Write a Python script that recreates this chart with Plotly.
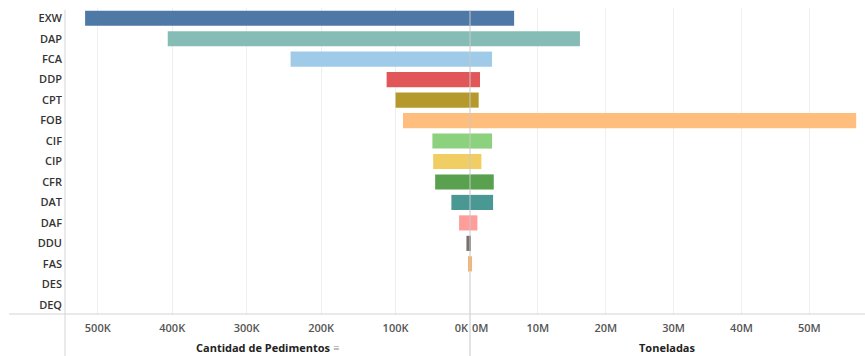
import plotly.graph_objects as go

categories = ["EXW", "DAP", "FCA", "DDP", "CPT", "FOB", "CIF", "CIP", "CFR",
              "DAT", "DAF", "DDU", "FAS", "DES", "DEQ"]
pedimentos = [517000, 406000, 241000, 112000, 100000, 90000, 50500, 49500, 46800,
              25000, 14700, 4800, 2000, 0, 0]
toneladas = [6.5e6, 16.2e6, 3.25e6, 1.47e6, 1.28e6, 56.9e6, 3.25e6, 1.68e6, 3.5e6,
             3.4e6, 1.09e6, 0.03e6, 0.3e6, 0, 0]
colors = ["#4E79A7", "#86BCB6", "#A0CBE8", "#E15759", "#B6992D", "#FFBE7D",
          "#8CD17D", "#F1CE63", "#59A14F", "#499894", "#FF9D9A", "#79706E",
          "#F7B36B", "#BAB0AC", "#D4A6C8"]
left_ticks = [500000, 400000, 300000, 200000, 100000]
left_labels = ["500K", "400K", "300K", "200K", "100K"]
right_ticks = [10e6, 20e6, 30e6, 40e6, 50e6]
right_labels = ["10M", "20M", "30M", "40M", "50M"]

W, H = 865, 356
x0 = 65 / W
xm = 470 / W
FONT = "Open Sans"
PH = 307  # plot height in px

fig = go.Figure()
fig.add_trace(go.Bar(y=categories, x=pedimentos, orientation="h", xaxis="x", yaxis="y",
                     marker=dict(color=colors, line=dict(width=0)),
                     showlegend=False, hoverinfo="x+y"))
fig.add_trace(go.Bar(y=categories, x=toneladas, orientation="h", xaxis="x2", yaxis="y",
                     marker=dict(color=colors, line=dict(width=0)),
                     showlegend=False, hoverinfo="x+y"))

tickfont = dict(family=FONT, size=11, color="#555555", weight=600)
base = dict(showline=False, zeroline=False, ticks="", tickfont=tickfont, fixedrange=True,
            ticklabelstandoff=5)

fig.update_layout(
    width=W, height=H,
    margin=dict(l=0, r=0, t=8, b=41),
    plot_bgcolor="white", paper_bgcolor="white",
    bargap=0.26,
    xaxis=dict(domain=[x0, xm], range=[544000, 0], tickvals=left_ticks, ticktext=left_labels,
               anchor="y", gridcolor="#EFEFEF", gridwidth=1, **base),
    xaxis2=dict(domain=[xm, 1], range=[0, 58.2e6], tickvals=right_ticks, ticktext=right_labels,
                anchor="y", gridcolor="#EFEFEF", gridwidth=1, **base),
    xaxis3=dict(domain=[x0, xm], range=[544000, 0], tickvals=[0], ticktext=["0K"],
                overlaying="x", anchor="y", side="bottom", ticklabelposition="outside left",
                ticklabelshift=2, showgrid=False, **base),
    xaxis4=dict(domain=[xm, 1], range=[0, 58.2e6], tickvals=[0], ticktext=["0M"],
                overlaying="x2", anchor="y", side="bottom", ticklabelposition="outside right",
                ticklabelshift=2, showgrid=False, **base),
    yaxis=dict(categoryorder="array", categoryarray=categories, range=[14.5, -0.5],
               anchor="x", showgrid=False, ticks="", showline=False, zeroline=False,
               tickfont=dict(family=FONT, size=11, color="#333333", weight=600),
               ticklabelstandoff=2, fixedrange=True),
)

# invisible traces so overlay axes render
fig.add_trace(go.Scatter(x=[0], y=["DEQ"], xaxis="x3", yaxis="y", mode="markers",
                         marker=dict(opacity=0, size=1), showlegend=False, hoverinfo="skip"))
fig.add_trace(go.Scatter(x=[0], y=["DEQ"], xaxis="x4", yaxis="y", mode="markers",
                         marker=dict(opacity=0, size=1), showlegend=False, hoverinfo="skip"))

# axis frame lines (Tableau style)
line_col = "#D4D4D4"
fig.add_shape(type="line", xref="paper", yref="paper", x0=x0, x1=x0, y0=-41 / PH, y1=1 - 2 / PH,
              line=dict(color=line_col, width=1))
fig.add_shape(type="line", xref="paper", yref="paper", x0=xm, x1=xm, y0=-41 / PH, y1=1 - 2 / PH,
              line=dict(color="#C8C8C8", width=1))
fig.add_shape(type="line", xref="paper", yref="paper", x0=9 / W, x1=1, y0=1 / PH, y1=1 / PH,
              line=dict(color=line_col, width=1))

title_font = dict(family=FONT, size=11, color="#222222", weight=700)
fig.add_annotation(xref="paper", yref="paper", x=(x0 + xm) / 2, y=-32 / PH, yanchor="middle",
                   xanchor="center",
                   text="Cantidad de Pedimentos <span style='color:#888888;font-weight:400'>≡</span>",
                   showarrow=False, font=title_font)
fig.add_annotation(xref="paper", yref="paper", x=(xm + 1) / 2, y=-32 / PH, yanchor="middle",
                   xanchor="center",
                   text="Toneladas", showarrow=False, font=title_font)

fig.write_html("out.html")
